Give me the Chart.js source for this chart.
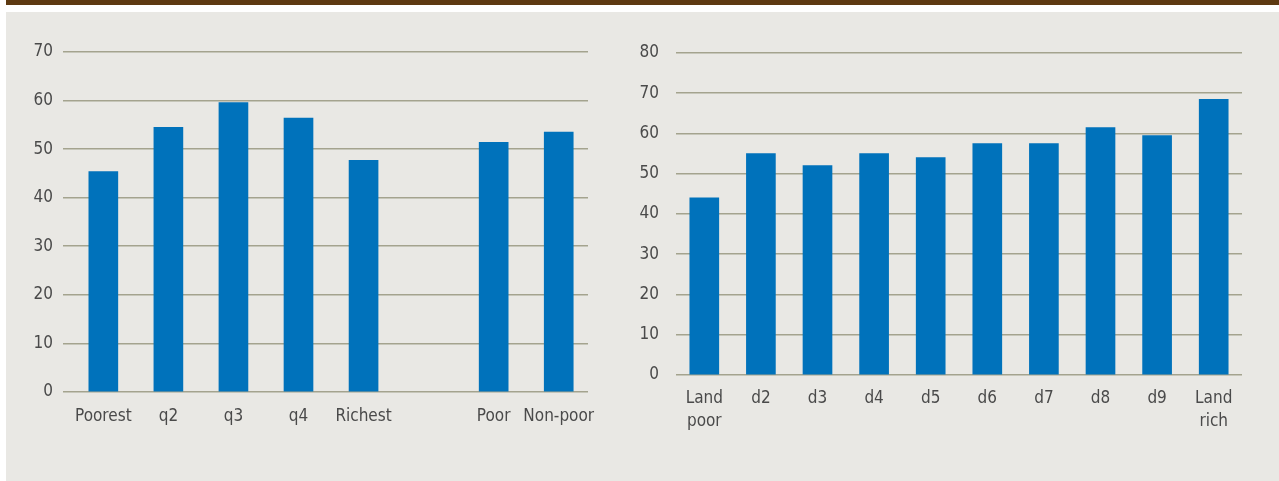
<!DOCTYPE html>
<html>
<head>
<meta charset="utf-8">
<script src="https://cdn.jsdelivr.net/npm/chart.js@4.4.1/dist/chart.umd.min.js"></script>
<style>
  html, body { margin: 0; padding: 0; background: #ffffff; }
  body { width: 1279px; height: 481px; position: relative; overflow: hidden; }
  #topbar { position: absolute; left: 6px; top: 0; width: 1273px; height: 5px; background: #5e3a12; }
  #panel { position: absolute; left: 6px; top: 12px; width: 1273px; height: 469px; background: #e9e8e4; }
  #wrapLeft { position: absolute; left: 6px; top: 12px; width: 620px; height: 460px; }
  #wrapRight { position: absolute; left: 640px; top: 12px; width: 639px; height: 469px; }
</style>
</head>
<body>
<div id="topbar"></div>
<div id="panel"></div>
<div id="wrapLeft"><canvas id="chartLeft"></canvas></div>
<div id="wrapRight"><canvas id="chartRight"></canvas></div>
<script>
// left panel: wealth quintiles, then poor / non-poor (blank slot = gap)
const leftCategories = ['Poorest', 'q2', 'q3', 'q4', 'Richest', '', 'Poor', 'Non-poor'];
const leftValues     = [45.4, 54.5, 59.6, 56.4, 47.7, null, 51.4, 53.5];
const leftTicks      = [0, 10, 20, 30, 40, 50, 60, 70];

// right panel: land deciles
const rightCategories = [['Land', 'poor'], 'd2', 'd3', 'd4', 'd5', 'd6', 'd7', 'd8', 'd9', ['Land', 'rich']];
const rightValues     = [44, 55, 52, 55, 54, 57.5, 57.5, 61.5, 59.5, 68.5];
const rightTicks      = [0, 10, 20, 30, 40, 50, 60, 70, 80];

const BAR_BLUE = '#0072bb';
const GRID = '#a4a38e';
const TXT = '#4a4a4a';
const FONT = { family: '"Liberation Sans Narrow", "DejaVu Sans Condensed", sans-serif', size: 17 };

Chart.defaults.font = FONT;
Chart.defaults.color = TXT;
Chart.defaults.animation = false;

function yAxis(ticks, width, pad) {
  return {
    min: ticks[0],
    max: ticks[ticks.length - 1],
    afterBuildTicks: s => { s.ticks = ticks.map(v => ({ value: v })); },
    afterFit: s => { s.width = width; },
    border: { display: false },
    grid: { color: GRID, lineWidth: 1.6, drawTicks: false },
    ticks: { padding: pad, font: FONT, color: TXT }
  };
}

// left chart
let leftPoints = [];
for (let i = 0; i < leftCategories.length; i++) {
  if (leftValues[i] !== null) leftPoints.push({ x: i, y: leftValues[i] });
}

new Chart(document.getElementById('chartLeft'), {
  type: 'bar',
  data: {
    datasets: [{
      data: leftPoints,
      backgroundColor: BAR_BLUE,
      barThickness: 29
    }]
  },
  options: {
    responsive: true,
    maintainAspectRatio: false,
    layout: { padding: { top: 40, right: 38, left: 0, bottom: 0 } },
    plugins: { legend: { display: false }, tooltip: { enabled: false } },
    scales: {
      x: {
        type: 'linear',
        offset: false,
        min: -0.62,
        max: 7.45,
        afterBuildTicks: s => {
          s.ticks = leftCategories.map((c, i) => ({ value: i })).filter(t => leftCategories[t.value] !== '');
        },
        afterFit: s => { s.height = 80; },
        border: { display: false },
        grid: { display: false },
        ticks: {
          autoSkip: false, maxRotation: 0, padding: 6,
          callback: v => leftCategories[v]
        }
      },
      y: yAxis(leftTicks, 57, 10)
    }
  }
});

// right chart
new Chart(document.getElementById('chartRight'), {
  type: 'bar',
  data: {
    labels: rightCategories,
    datasets: [{
      data: rightValues,
      backgroundColor: BAR_BLUE,
      barThickness: 29
    }]
  },
  options: {
    responsive: true,
    maintainAspectRatio: false,
    layout: { padding: { top: 41, right: 37, left: 0, bottom: 0 } },
    plugins: { legend: { display: false }, tooltip: { enabled: false } },
    scales: {
      x: {
        afterFit: s => { s.height = 106; },
        border: { display: false },
        grid: { display: false },
        ticks: { autoSkip: false, maxRotation: 0, padding: 5, font: { ...FONT, lineHeight: 1.3 } }
      },
      y: yAxis(rightTicks, 36, 17)
    }
  }
});
</script>
</body>
</html>
